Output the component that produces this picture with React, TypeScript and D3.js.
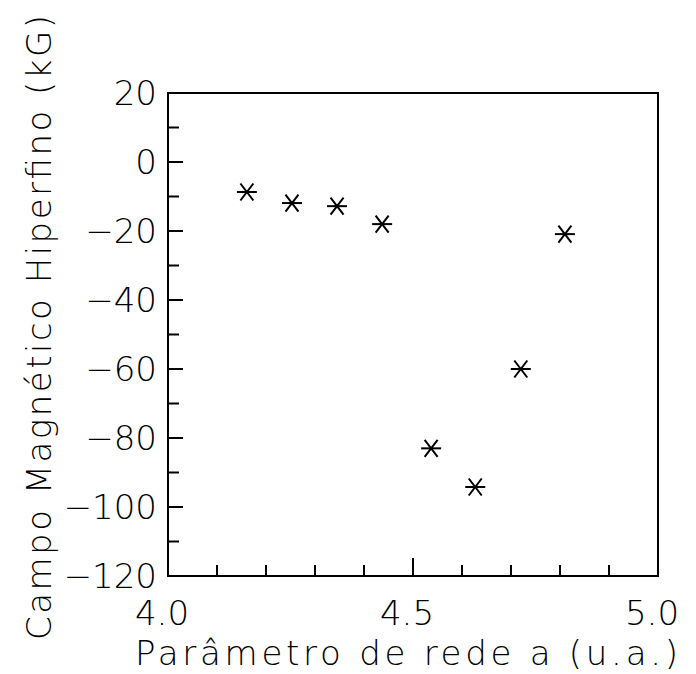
import React from "react";
import * as d3 from "d3";

const latticeA: number[] = [4.161, 4.253, 4.345, 4.437, 4.537, 4.627, 4.72, 4.81];
const hyperfineField: number[] = [-8.7, -11.9, -12.8, -18, -83, -94.2, -60, -20.9];
const yTickValues: number[] = [20, 10, 0, -10, -20, -30, -40, -50, -60, -70, -80, -90, -100, -110, -120];
const yTickLabels: number[] = [20, 0, -20, -40, -60, -80, -100, -120];
const xTickValues: number[] = [4.0, 4.1, 4.2, 4.3, 4.4, 4.5, 4.6, 4.7, 4.8, 4.9, 5.0];
const xTickLabels: number[] = [4.0, 4.5, 5.0];
const xTitle = "Parâmetro de rede a (u.a.)";
const yTitle = "Campo Magnético Hiperfino (kG)";

const W = 696;
const H = 674;
const left = 168;
const right = 658;
const top = 93;
const bottom = 576;
const FONT = "'DejaVu Sans', 'Liberation Sans', sans-serif";

export default function App() {
  const x = d3.scaleLinear().domain([4, 5]).range([left, right]);
  const y = d3.scaleLinear().domain([-120, 20]).range([bottom, top]);
  const fmtY = (v: number) => (v < 0 ? "\u2212" + Math.abs(v) : String(v));

  const star = (cx: number, cy: number, i: number) => {
    const hb = 10;
    const dx = 6.5;
    const dy = 8.5;
    return (
      <g key={i} stroke="#000" strokeWidth={2} strokeLinecap="butt">
        <line x1={cx - hb} y1={cy} x2={cx + hb} y2={cy} />
        <line x1={cx - dx} y1={cy - dy} x2={cx + dx} y2={cy + dy} />
        <line x1={cx - dx} y1={cy + dy} x2={cx + dx} y2={cy - dy} />
      </g>
    );
  };

  return (
    <svg
      width={W}
      height={H}
      viewBox={`0 0 ${W} ${H}`}
      style={{ position: "absolute", left: 0, top: 0, background: "#fff" }}
    >
      <rect x={0} y={0} width={W} height={H} fill="#fff" />
      {/* frame */}
      <rect
        x={left}
        y={top}
        width={right - left}
        height={bottom - top}
        fill="none"
        stroke="#000"
        strokeWidth={2}
      />
      {/* y ticks */}
      {yTickValues.map((v) => {
        const major = yTickLabels.includes(v);
        const len = major ? 15 : 11;
        return (
          <line
            key={"yt" + v}
            x1={left}
            x2={left + len}
            y1={y(v)}
            y2={y(v)}
            stroke="#000"
            strokeWidth={2}
          />
        );
      })}
      {/* x ticks */}
      {xTickValues.map((v) => {
        const len = Math.abs(v - 4.5) < 1e-6 ? 18 : 11;
        return (
          <line
            key={"xt" + v}
            x1={x(v)}
            x2={x(v)}
            y1={bottom}
            y2={bottom - len}
            stroke="#000"
            strokeWidth={2}
          />
        );
      })}
      {/* y labels */}
      {yTickLabels.map((v) => (
        <text
          key={"yl" + v}
          x={157}
          y={y(v)}
          dy="0.36em"
          textAnchor="end"
          fontFamily={FONT}
          fontWeight={200}
          fontSize={34}
          fill="#000"
        >
          {fmtY(v)}
        </text>
      ))}
      {/* x labels */}
      {xTickLabels.map((v) => (
        <text
          key={"xl" + v}
          x={x(v) - 6}
          y={625}
          textAnchor="middle"
          fontFamily={FONT}
          fontWeight={200}
          fontSize={34}
          fill="#000"
        >
          {v.toFixed(1)}
        </text>
      ))}
      {/* x title */}
      <text
        x={135}
        y={665}
        textLength={543}
        lengthAdjust="spacing"
        fontFamily={FONT}
        fontWeight={200}
        fontSize={34}
        fill="#000"
      >
        {xTitle}
      </text>
      {/* y title */}
      <text
        transform={`translate(51, 640) rotate(-90)`}
        x={0}
        y={0}
        textLength={625}
        lengthAdjust="spacing"
        fontFamily={FONT}
        fontWeight={200}
        fontSize={34}
        fill="#000"
      >
        {yTitle}
      </text>
      {/* points */}
      {latticeA.map((a, i) => star(x(a), y(hyperfineField[i]), i))}
    </svg>
  );
}
